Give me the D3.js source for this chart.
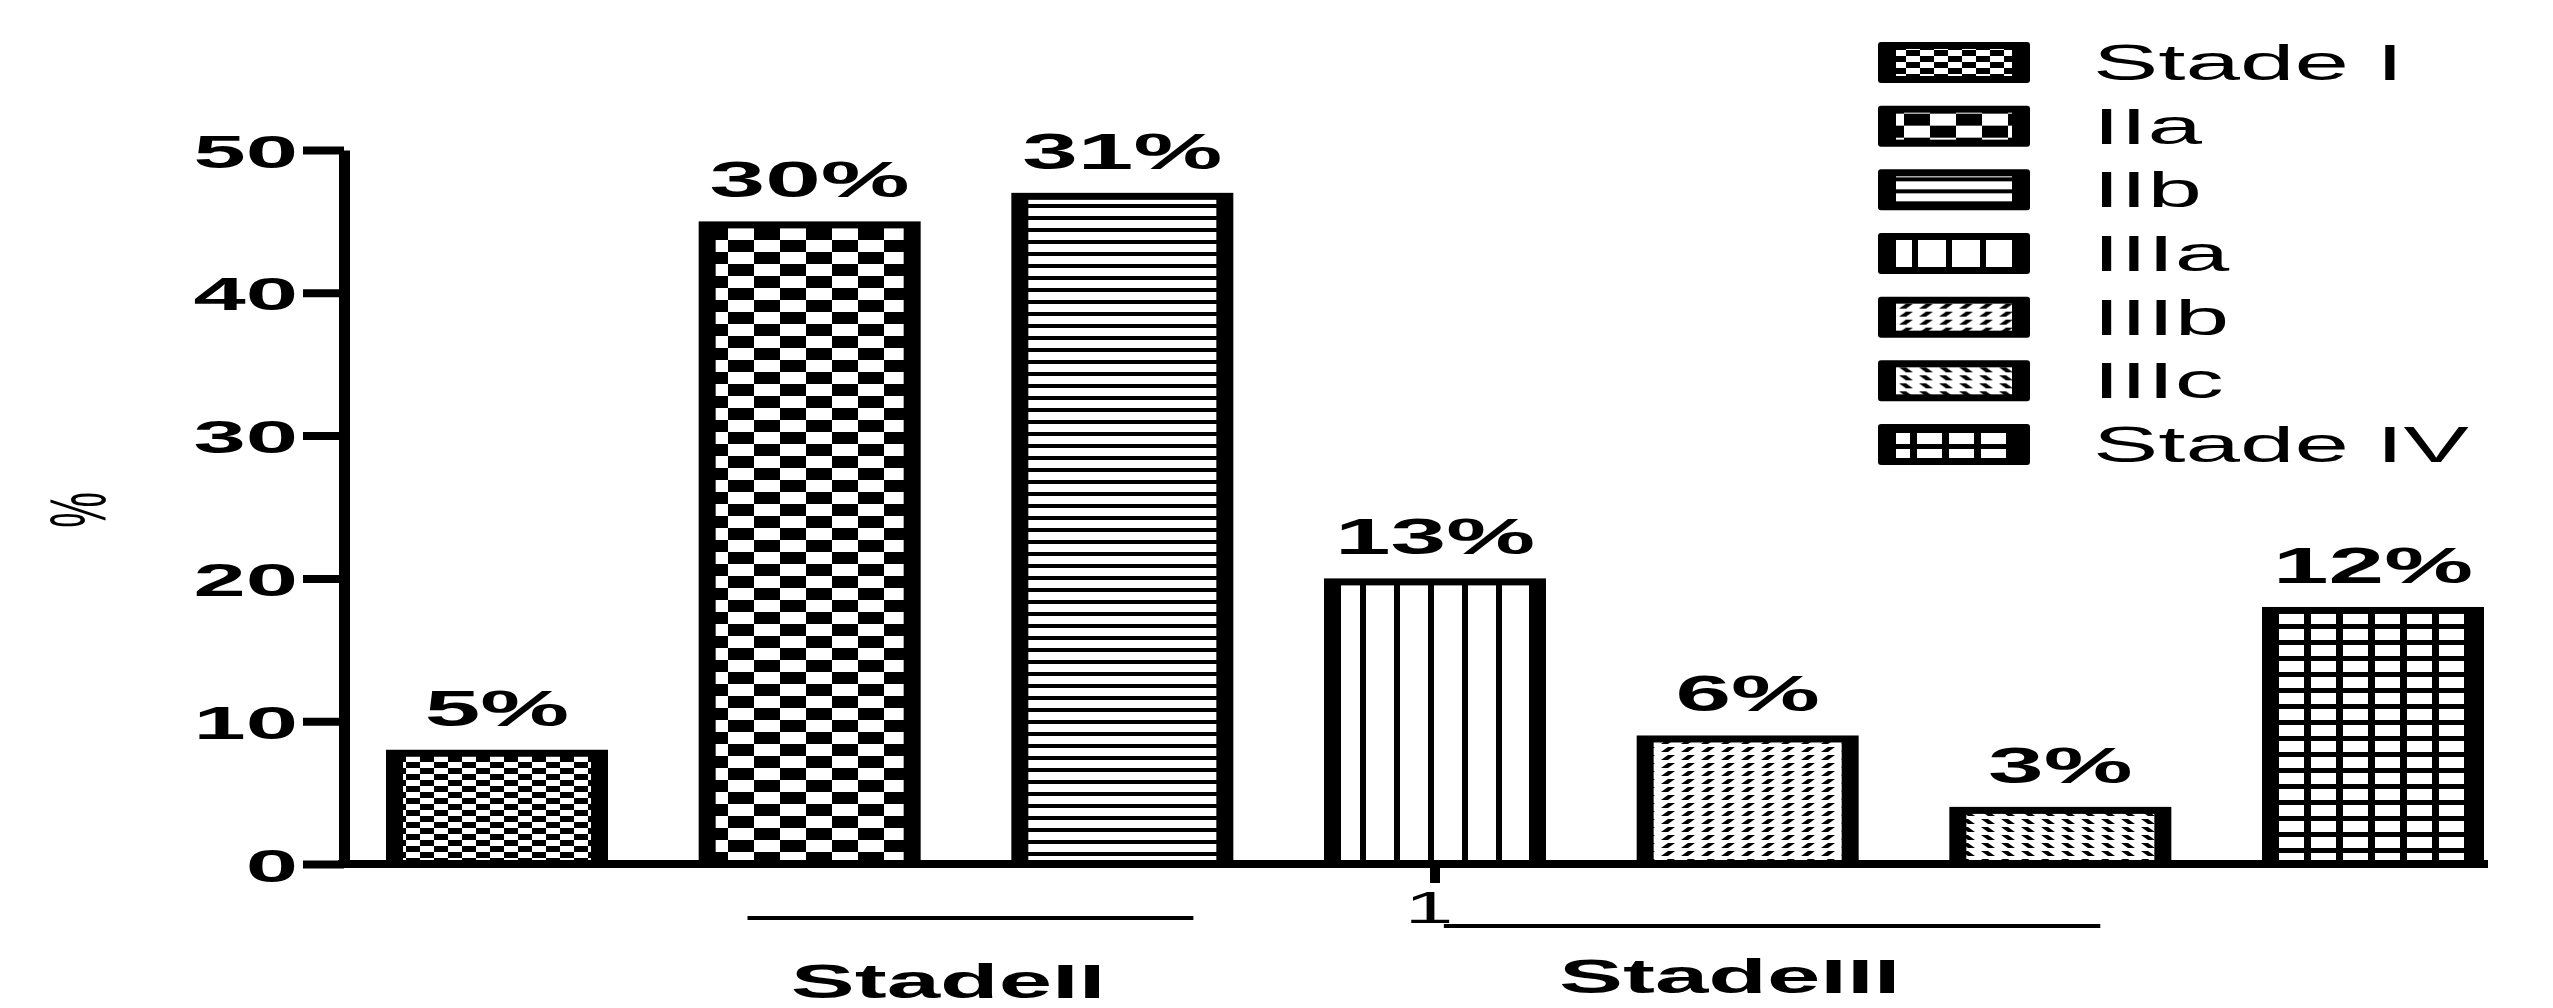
<!DOCTYPE html>
<html>
<head>
<meta charset="utf-8">
<script src="https://cdn.jsdelivr.net/npm/d3@7"></script>
<style>
  body { margin: 0; background: #fff; }
  svg text { font-family: "Liberation Sans", Arial, Helvetica, sans-serif; fill: #000; }
</style>
</head>
<body>
<div id="chart"></div>
<script>
// Data
const stages = ["Stade I", "IIa", "IIb", "IIIa", "IIIb", "IIIc", "Stade IV"];
const values = [8, 45, 47, 20, 9, 4, 18];
const valueLabels = ["5%", "30%", "31%", "13%", "6%", "3%", "12%"];
const yTicks = [0, 10, 20, 30, 40, 50];
const xTickLabels = ["1"];
const groupNames = ["StadeII", "StadeIII"];
const groupMembers = [["IIa", "IIb"], ["IIIa", "IIIb", "IIIc"]];

const width = 2553, height = 1008;
const axisX = 344, axisY = 864, topY = 150;

const svg = d3.select("#chart")
    .append("svg")
    .attr("width", width)
    .attr("height", height)
    .style("display", "block");

// Hatch patterns (the picture is stretched ~2x wide, so is everything here)
const defs = svg.append("defs");
function pattern(id, w, h) {
    const p = defs.append("pattern")
        .attr("id", id)
        .attr("patternUnits", "userSpaceOnUse")
        .attr("width", w)
        .attr("height", h);
    p.append("rect").attr("width", w).attr("height", h).attr("fill", "#fff");
    return p;
}
// Stade I - fine checker
let p = pattern("pat0", 28, 12);
p.append("rect").attr("x", 0).attr("y", 0).attr("width", 14).attr("height", 6).attr("fill", "#000");
p.append("rect").attr("x", 14).attr("y", 6).attr("width", 14).attr("height", 6).attr("fill", "#000");
// IIa - big checker
p = pattern("pat1", 52, 24);
p.append("rect").attr("x", 0).attr("y", 0).attr("width", 26).attr("height", 12).attr("fill", "#000");
p.append("rect").attr("x", 26).attr("y", 12).attr("width", 26).attr("height", 12).attr("fill", "#000");
// IIb - horizontal lines
p = pattern("pat2", 10, 12);
p.append("rect").attr("x", 0).attr("y", 0).attr("width", 10).attr("height", 4).attr("fill", "#000");
// IIIa - vertical lines
p = pattern("pat3", 34, 10);
p.append("rect").attr("x", 0).attr("y", 0).attr("width", 6).attr("height", 10).attr("fill", "#000");
// IIIb - "/" dashes
p = pattern("pat4", 20, 8);
p.append("path").attr("d", "M1,8 L8,8 L15,3 L8,3 Z").attr("fill", "#000");
// IIIc - "\" dashes
p = pattern("pat5", 20, 8);
p.append("path").attr("d", "M1,3 L8,3 L15,8 L8,8 Z").attr("fill", "#000");
// Stade IV - grid
p = pattern("pat6", 32, 16);
p.append("rect").attr("x", 0).attr("y", 0).attr("width", 7).attr("height", 16).attr("fill", "#000");
p.append("rect").attr("x", 0).attr("y", 0).attr("width", 32).attr("height", 5).attr("fill", "#000");

const rows = stages.map((s, i) => ({ stage: s, value: values[i], label: valueLabels[i], pat: "pat" + i }));

// Scales
const x = d3.scaleBand()
    .domain(stages)
    .range([386, 2484])
    .paddingInner(0.29)
    .paddingOuter(0);
const y = d3.scaleLinear()
    .domain([0, 50])
    .range([axisY, topY]);
const xGroup = d3.scaleBand()
    .domain(xTickLabels)
    .range(x.range());

// Bars: black outer box + patterned inner box (thick side borders, thin top)
const bw = x.bandwidth();
const bx = 17, by = 7;
svg.selectAll(".bar-outer")
    .data(rows)
    .join("rect")
    .attr("class", "bar-outer")
    .attr("x", d => x(d.stage))
    .attr("y", d => y(d.value))
    .attr("width", bw)
    .attr("height", d => y(0) - y(d.value))
    .attr("fill", "#000");
svg.selectAll(".bar-inner")
    .data(rows)
    .join("rect")
    .attr("class", "bar-inner")
    .attr("x", d => x(d.stage) + bx)
    .attr("y", d => y(d.value) + by)
    .attr("width", bw - 2 * bx)
    .attr("height", d => Math.max(0, y(0) - y(d.value) - by))
    .attr("fill", d => `url(#${d.pat})`);

// Value labels above bars
svg.selectAll(".value-label")
    .data(rows)
    .join("text")
    .attr("class", "value-label")
    .attr("text-anchor", "middle")
    .attr("transform", d => `translate(${x(d.stage) + bw / 2},${y(d.value) - 24}) scale(2,1)`)
    .style("font-size", "50px")
    .style("font-weight", "bold")
    .text(d => d.label);

// Y axis
const gy = svg.append("g")
    .attr("transform", `translate(${axisX},0)`)
    .call(d3.axisLeft(y).tickValues(yTicks).tickSize(41).tickSizeOuter(0));
gy.attr("font-size", null).attr("font-family", null);
gy.select(".domain").attr("stroke-width", 11);
gy.selectAll(".tick line").attr("stroke-width", 8);
gy.selectAll(".tick text")
    .attr("x", null)
    .attr("dy", null)
    .attr("text-anchor", "end")
    .attr("transform", "translate(-46,17) scale(2,1)")
    .style("font-size", "47px")
    .style("font-weight", "bold");

// Y title
svg.append("text")
    .attr("text-anchor", "middle")
    .attr("transform", "translate(78,510) scale(2,1) rotate(-90)")
    .attr("dy", "0.35em")
    .style("font-size", "40px")
    .text("%");

// X axis (baseline + single group tick)
svg.append("line")
    .attr("x1", axisX - 6)
    .attr("x2", 2488)
    .attr("y1", axisY)
    .attr("y2", axisY)
    .attr("stroke", "#000")
    .attr("stroke-width", 8);
const gx = svg.append("g")
    .attr("transform", `translate(0,${axisY})`)
    .call(d3.axisBottom(xGroup).tickSize(19).tickSizeOuter(0));
gx.attr("font-size", null).attr("font-family", null);
gx.select(".domain").remove();
gx.selectAll(".tick line").attr("stroke-width", 10);
gx.selectAll(".tick text")
    .attr("y", null)
    .attr("dy", null)
    .attr("text-anchor", "middle")
    .attr("transform", "translate(-6,59) scale(2,1)")
    .style("font-size", "44px");

// Group brackets under the axis
const bracketLayout = {
    start: [0.22, 0.54],   // fraction of first bar width
    end: [0.82, 0.68],     // fraction of last bar width
    lineY: [918, 926],
    labelY: [998, 993]
};
groupNames.forEach((name, i) => {
    const m = groupMembers[i];
    const first = x(m[0]), last = x(m[m.length - 1]);
    svg.append("line")
        .attr("x1", first + bw * bracketLayout.start[i])
        .attr("x2", last + bw * bracketLayout.end[i])
        .attr("y1", bracketLayout.lineY[i])
        .attr("y2", bracketLayout.lineY[i])
        .attr("stroke", "#000")
        .attr("stroke-width", 4);
    const cx = (first + last + bw) / 2 - 18;
    svg.append("text")
        .attr("text-anchor", "middle")
        .attr("transform", `translate(${cx},${bracketLayout.labelY[i]}) scale(2,1)`)
        .style("font-size", "48px")
        .style("font-weight", "bold")
        .text(name);
});

// Legend
const ly = d3.scalePoint().domain(stages).range([62, 444]);
const legend = svg.append("g").attr("transform", "translate(1878,0)");
const item = legend.selectAll(".legend-item")
    .data(rows)
    .join("g")
    .attr("class", "legend-item")
    .attr("transform", d => `translate(0,${ly(d.stage)})`);
item.append("rect")
    .attr("x", 0).attr("y", -20)
    .attr("width", 152).attr("height", 41)
    .attr("rx", 3)
    .attr("fill", "#000");
item.append("rect")
    .attr("x", 18).attr("y", -13)
    .attr("width", 116).attr("height", 27)
    .attr("fill", d => `url(#${d.pat})`);
item.append("text")
    .attr("transform", "translate(215,18) scale(2,1)")
    .style("font-size", "49px")
    .text(d => d.stage);
</script>
</body>
</html>
